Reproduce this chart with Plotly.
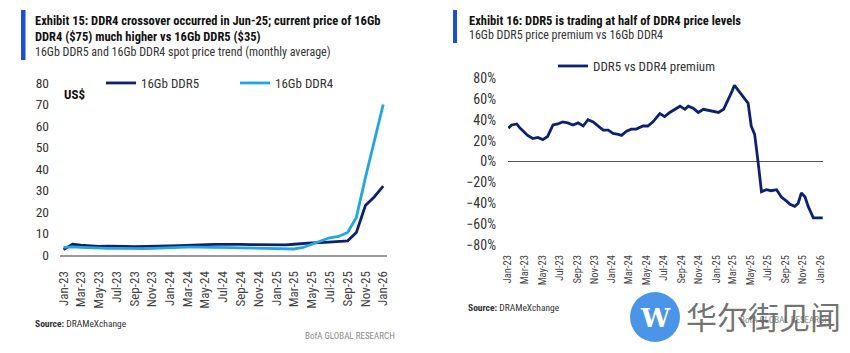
import pandas as pd
import plotly.graph_objects as go

W, H = 850, 353

# ---------------- data ----------------
months = list(pd.date_range("2023-01-01", "2026-01-01", freq="MS"))
ddr5_price = [2.5, 5.0, 4.6, 4.2, 4.0, 4.1, 4.2, 4.0, 3.9, 3.9, 4.0, 4.1,
              4.2, 4.3, 4.5, 4.7, 4.8, 4.9, 4.9, 5.0, 4.9, 4.8, 4.7, 4.6,
              4.6, 4.7, 5.0, 5.4, 5.6, 5.8, 6.0, 6.2, 6.6, 10.5, 23.0, 27.0, 32.0]
ddr4_price = [3.5, 3.8, 3.5, 3.3, 3.2, 3.1, 3.1, 3.0, 3.0, 3.0, 3.1, 3.3,
              3.5, 3.6, 3.7, 3.7, 3.7, 3.6, 3.5, 3.4, 3.3, 3.2, 3.2, 3.2,
              3.0, 2.7, 2.8, 3.5, 4.8, 6.5, 8.0, 8.6, 10.5, 17.5, 36.0, 53.0, 70.0]

prem_dates = ["2023-01-02", "2023-01-14", "2023-02-01", "2023-02-12", "2023-02-24",
              "2023-03-11", "2023-03-29", "2023-04-16", "2023-05-03", "2023-05-20",
              "2023-06-08", "2023-06-25", "2023-07-12", "2023-07-30", "2023-08-17",
              "2023-09-04", "2023-09-22", "2023-10-09", "2023-10-27", "2023-11-14",
              "2023-12-01", "2023-12-19", "2024-01-05", "2024-01-23", "2024-02-04",
              "2024-02-21", "2024-03-09", "2024-03-26", "2024-04-19", "2024-05-06",
              "2024-05-24", "2024-06-17", "2024-07-04", "2024-07-22", "2024-08-09",
              "2024-08-27", "2024-09-13", "2024-09-25", "2024-10-12", "2024-10-30",
              "2024-11-17", "2024-12-04", "2024-12-22", "2025-01-09", "2025-01-27",
              "2025-02-07", "2025-02-25", "2025-03-06", "2025-03-18", "2025-03-30",
              "2025-04-11", "2025-04-23", "2025-05-04", "2025-05-16", "2025-05-27",
              "2025-06-09", "2025-06-26", "2025-07-13", "2025-08-01", "2025-08-18",
              "2025-09-05", "2025-09-17", "2025-10-04", "2025-10-16", "2025-10-27",
              "2025-11-09", "2025-11-20", "2025-12-08", "2025-12-25", "2026-01-10"]
premium = [32, 35, 36, 32, 29, 25, 22, 23, 21, 24,
           35, 36, 38, 37, 35, 37, 34, 40, 38, 34,
           30, 30, 27, 26, 25, 29, 31, 31, 34, 34,
           38, 46, 43, 47, 50, 53, 50, 53, 51, 47,
           50, 49, 48, 47, 50, 56, 67, 73, 69, 64,
           61, 56, 34, 26, 2, -29, -27, -28, -27, -34,
           -38, -41, -43, -40, -30, -34, -43, -54, -54, -54]

# ---------------- styling ----------------
NAVY = "#0c2270"
LIGHT = "#22a6e3"
BAR_BLUE = "#1d4fd3"
FONT = "Liberation Sans Narrow, Roboto Condensed, Arial Narrow, Roboto, sans-serif"
TXT = "#333333"


def px(x):
    return x / W


def py(y):
    return (H - y) / H


fig = go.Figure()
fig.add_trace(go.Scatter(x=months, y=ddr5_price, name="16Gb DDR5", mode="lines",
                         line=dict(color=NAVY, width=2.8), xaxis="x", yaxis="y",
                         legend="legend"))
fig.add_trace(go.Scatter(x=months, y=ddr4_price, name="16Gb DDR4", mode="lines",
                         line=dict(color=LIGHT, width=2.8), xaxis="x", yaxis="y",
                         legend="legend"))
fig.add_trace(go.Scatter(x=prem_dates, y=premium, name="DDR5 vs DDR4 premium", mode="lines",
                         line=dict(color=NAVY, width=2.8), xaxis="x2", yaxis="y2",
                         legend="legend2"))

fig.update_layout(
    width=W, height=H,
    margin=dict(l=0, r=0, t=0, b=0, autoexpand=False),
    paper_bgcolor="white", plot_bgcolor="white",
    font=dict(family=FONT, color=TXT),
    xaxis=dict(domain=[px(60), px(387)], type="date", automargin=False,
               range=["2022-12-20", "2026-01-14"],
               tickvals=months[::2], tickformat="%b-%y", tickangle=-90,
               ticks="", tickfont=dict(family=FONT, size=13, color="#444"),
               showgrid=False, zeroline=False,
               showline=True, linecolor="#9a9a9a", linewidth=2,
               ticklabelstandoff=9, anchor="y"),
    yaxis=dict(domain=[py(255), py(83)], range=[0, 80], dtick=10, automargin=False,
               showgrid=False, zeroline=False, showline=False, ticks="",
               tickfont=dict(family=FONT, size=13.5, color=TXT),
               ticklabelstandoff=10, anchor="x"),
    xaxis2=dict(domain=[px(508), px(823)], type="date", automargin=False,
                range=["2023-01-01", "2026-01-11"],
                tickvals=months[::2], tickformat="%b-%y", tickangle=-90,
                ticks="", tickfont=dict(family=FONT, size=10.5, color="#444"),
                showgrid=False, zeroline=False, showline=False,
                ticklabelstandoff=7, anchor="y2"),
    yaxis2=dict(domain=[py(245), py(78)], range=[-80, 80], dtick=20, automargin=False,
                ticksuffix="%", showgrid=False, zeroline=True,
                zerolinecolor="#555555", zerolinewidth=1, showline=False, ticks="",
                tickfont=dict(family=FONT, size=14, color=TXT),
                ticklabelstandoff=11, anchor="x2"),
    legend=dict(orientation="h", x=px(101), y=py(83), xanchor="left", yanchor="middle",
                bgcolor="rgba(0,0,0,0)", font=dict(family=FONT, size=13, color=TXT),
                entrywidth=89, entrywidthmode="pixels", itemwidth=30),
    legend2=dict(orientation="h", x=px(553), y=py(66), xanchor="left", yanchor="middle",
                 bgcolor="rgba(0,0,0,0)", font=dict(family=FONT, size=13, color=TXT),
                 itemwidth=30),
    showlegend=True,
)

shapes = [
    dict(type="rect", xref="paper", yref="paper", x0=px(21), x1=px(25.5), y0=py(60), y1=py(10),
         fillcolor=BAR_BLUE, line=dict(width=0)),
    dict(type="rect", xref="paper", yref="paper", x0=px(453), x1=px(457), y0=py(43), y1=py(10),
         fillcolor=BAR_BLUE, line=dict(width=0)),
    # watermark circle
    dict(type="circle", xref="paper", yref="paper", x0=px(630), x1=px(680), y0=py(342), y1=py(292),
         fillcolor="#4a95e8", line=dict(width=0), layer="above"),
]
fig.update_layout(shapes=shapes)


def ann(text, x, y, size, color=TXT, xanchor="left", bold=False, family=FONT):
    fig.add_annotation(text=(f"<b>{text}</b>" if bold else text), x=px(x), y=py(y),
                       xref="paper", yref="paper", xanchor=xanchor, yanchor="middle",
                       showarrow=False, font=dict(family=family, size=size, color=color))


ann("Exhibit 15: DDR4 crossover occurred in Jun-25; current price of 16Gb", 33, 20, 12.5, "#111", bold=True)
ann("DDR4 ($75) much higher vs 16Gb DDR5 ($35)", 33, 37, 12.5, "#111", bold=True)
ann("16Gb DDR5 and 16Gb DDR4 spot price trend (monthly average)", 33, 52, 12, TXT)
ann("US$", 62, 95, 13, "#111", bold=True)
ann("<b>Source:</b> DRAMeXchange", 33, 323, 9.5, TXT)
ann("BofA GLOBAL RESEARCH", 397, 336, 9, "#8a8a8a", xanchor="right")

ann("Exhibit 16: DDR5 is trading at half of DDR4 price levels", 467, 20, 12.5, "#111", bold=True)
ann("16Gb DDR5 price premium vs 16Gb DDR4", 467, 35, 12, TXT)
ann("<b>Source:</b> DRAMeXchange", 466, 307, 9.5, TXT)
ann("BofA GLOBAL RESEARCH", 832, 320, 9, "#8a8a8a", xanchor="right")

# watermark
ann("W", 655, 318, 26, "white", xanchor="center", bold=True, family="DejaVu Serif")
ann("华尔街见闻", 684, 315, 31, "rgba(90,90,90,0.85)", family="Noto Sans CJK SC")

fig.write_html("out.html")
